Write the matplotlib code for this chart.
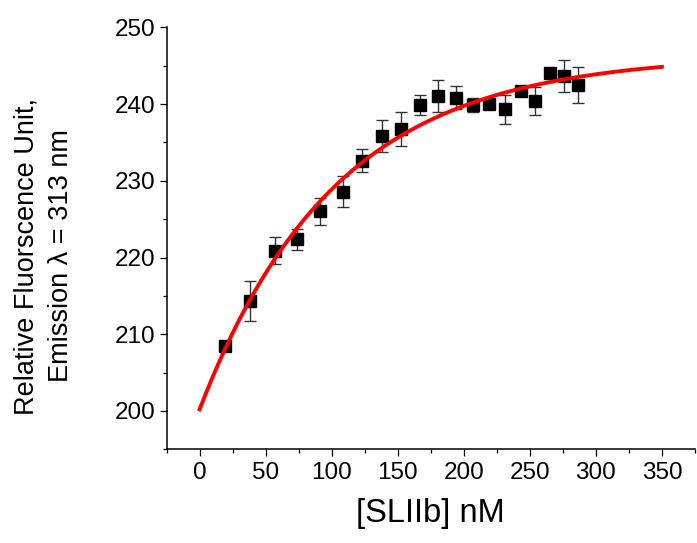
import numpy as np
import matplotlib
matplotlib.use('Agg')
import matplotlib.pyplot as plt
from matplotlib.ticker import MultipleLocator

plt.rcParams['font.family'] = ['Liberation Sans', 'DejaVu Sans']

# titration data: [SLIIb] (nM) vs fluorescence, with error bars
conc = [19.5, 38.4, 56.8, 74.0, 91.2, 108.3, 123.0, 137.9, 152.8, 166.9,
        180.8, 193.9, 206.8, 219.0, 231.0, 243.0, 254.3, 265.4, 276.0, 286.4]
fluor = [208.5, 214.3, 220.9, 222.35, 226.0, 228.6, 232.6, 235.8, 236.8, 239.9,
         241.1, 240.8, 239.9, 240.05, 239.3, 241.7, 240.4, 244.0, 243.7, 242.5]
fluor_err = [0.4, 2.6, 1.8, 1.35, 1.75, 2.0, 1.5, 2.1, 2.2, 1.27,
             2.1, 1.5, 0.9, 0.5, 1.87, 0.5, 1.83, 0.4, 2.1, 2.35]

# single exponential binding fit (parameters)
fit_y0 = 200.2
fit_amp = 46.2
fit_k = 0.0097
fit_xmax = 350

fig = plt.figure(figsize=(6.97, 5.43), dpi=100)
ax = fig.add_axes([0.239, 0.1726, 0.758, 0.777])

ax.errorbar(conc, fluor, yerr=fluor_err, fmt='none', ecolor='#333333',
            elinewidth=1.0, capsize=4, capthick=1.0, zorder=2)
ax.plot(conc, fluor, 's', color='black', markersize=8.5, zorder=3)

xf = np.linspace(0, fit_xmax, 300)
ax.plot(xf, fit_y0 + fit_amp * (1 - np.exp(-fit_k * xf)), '-', color='#ff0000',
        linewidth=2.8, zorder=4)

ax.set_xlim(-25, 375)
ax.set_ylim(195, 250)
ax.xaxis.set_major_locator(MultipleLocator(50))
ax.xaxis.set_minor_locator(MultipleLocator(25))
ax.yaxis.set_major_locator(MultipleLocator(10))
ax.yaxis.set_minor_locator(MultipleLocator(5))
ax.set_xticks(range(0, 351, 50))
ax.set_yticks(range(200, 251, 10))

for side in ['top', 'right']:
    ax.spines[side].set_visible(False)
for side in ['left', 'bottom']:
    ax.spines[side].set_linewidth(1.1)

ax.tick_params(which='major', direction='out', length=5, width=0.9, labelsize=17.5)
ax.tick_params(which='minor', direction='out', length=3, width=0.9)
ax.tick_params(axis='x', which='major', pad=4)
ax.tick_params(axis='y', which='major', pad=3)

ax.set_xlabel('[SLIIb] nM', fontsize=23.5, labelpad=10)
fig.text(44 / 697, 1 - 256 / 543, 'Relative Fluorscence Unit,\nEmission \u03bb = 313 nm',
         rotation=90, ha='center', va='center', multialignment='center',
         fontsize=19.5, linespacing=1.4)

fig.savefig('out.png', dpi=100)
